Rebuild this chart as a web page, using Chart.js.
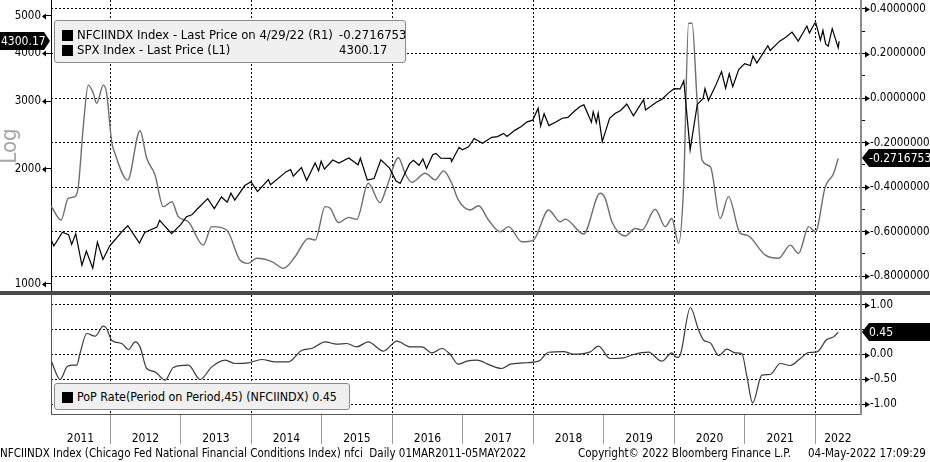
<!DOCTYPE html>
<html>
<head>
<meta charset="utf-8">
<script src="https://cdn.jsdelivr.net/npm/chart.js@4.4.0/dist/chart.umd.min.js"></script>
<style>
body { margin: 0; background: #fff; }
#wrap { position: relative; width: 930px; height: 462px; overflow: hidden; background: #fff;
  font-family: 'DejaVu Sans Condensed', 'DejaVu Sans', sans-serif; color: #000; }
canvas { position: absolute; left: 0; }
#top { top: 0; }
#bottom { top: 291px; }
#sep { position: absolute; left: 0; top: 291px; width: 930px; height: 4px; background: #4a4a4a; }
.legend { position: absolute; background: #f0f0f0; border: 1px solid #8a8a8a; border-radius: 3px;
  font-size: 13px; line-height: 15px; box-sizing: border-box; }
.legend span { position: absolute; white-space: pre; }
.sq { width: 11px; height: 11px; background: #000; }
#footer span { position: absolute; top: 446px; font-size: 11.5px; line-height: 14px; white-space: pre; }
</style>
</head>
<body>
<div id="wrap">
  <canvas id="top" width="930" height="291"></canvas>
  <canvas id="bottom" width="930" height="171"></canvas>
  <div id="sep"></div>
  <div class="legend" style="left:54px;top:20px;width:352px;height:43px;">
    <span class="sq" style="left:7px;top:9px;"></span>
    <span style="left:22px;top:6px;">NFCIINDX Index - Last Price on 4/29/22 (R1)</span>
    <span style="left:284px;top:6px;">-0.2716753</span>
    <span class="sq" style="left:7px;top:24px;"></span>
    <span style="left:22px;top:21px;">SPX Index - Last Price (L1)</span>
    <span style="left:284px;top:21px;">4300.17</span>
  </div>
  <div class="legend" style="left:54px;top:383px;width:296px;height:27px;">
    <span class="sq" style="left:7px;top:8px;"></span>
    <span style="left:22px;top:5px;font-size:12.4px;">PoP Rate(Period on Period,45) (NFCIINDX) 0.45</span>
  </div>
  <div id="footer">
    <span style="left:0px;">NFCIINDX Index (Chicago Fed National Financial Conditions Index) nfci  Daily 01MAR2011-05MAY2022</span>
    <span style="left:578px;">Copyright© 2022 Bloomberg Finance L.P.</span>
    <span style="left:808px;">04-May-2022 17:09:29</span>
  </div>
</div>
<script>
// S&P 500 (left, log scale)
var spxDates = ['2011-03-01','2011-03-16','2011-04-29','2011-05-31','2011-06-16','2011-07-07','2011-08-08','2011-08-31','2011-10-03','2011-10-27','2011-11-25','2011-12-30',
  '2012-01-31','2012-02-29','2012-04-02','2012-06-01','2012-06-29','2012-08-31','2012-09-14','2012-11-15','2012-12-31',
  '2013-01-31','2013-02-28','2013-03-28','2013-05-21','2013-06-24','2013-07-31','2013-08-30','2013-09-18','2013-10-08','2013-11-29','2013-12-31',
  '2014-02-03','2014-03-31','2014-04-11','2014-06-30','2014-07-24','2014-08-07','2014-09-18','2014-10-15','2014-11-28','2014-12-16','2014-12-29',
  '2015-01-15','2015-02-27','2015-03-31','2015-05-21','2015-07-08','2015-07-20','2015-08-25','2015-09-29','2015-11-03','2015-12-18',
  '2016-01-20','2016-02-11','2016-03-31','2016-04-20','2016-05-19','2016-06-08','2016-06-27','2016-07-29','2016-08-15','2016-09-09','2016-10-31','2016-11-04','2016-12-13','2016-12-30',
  '2017-01-31','2017-03-01','2017-04-13','2017-05-31','2017-06-30','2017-07-31','2017-08-18','2017-09-29','2017-10-31','2017-11-30','2017-12-29',
  '2018-01-26','2018-02-08','2018-02-26','2018-03-23','2018-04-30','2018-05-31','2018-06-29','2018-07-31','2018-08-31','2018-09-20','2018-10-29','2018-11-07','2018-11-23','2018-12-03','2018-12-24',
  '2019-01-31','2019-02-28','2019-03-29','2019-04-30','2019-06-03','2019-07-26','2019-08-05','2019-09-30','2019-10-31','2019-11-29','2019-12-31',
  '2020-01-31','2020-02-19','2020-03-23','2020-04-29','2020-05-29','2020-06-08','2020-06-26','2020-07-31','2020-09-02','2020-09-23','2020-10-12','2020-10-30','2020-11-30','2020-12-31',
  '2021-01-29','2021-02-12','2021-03-04','2021-04-30','2021-05-12','2021-06-30','2021-07-30','2021-09-02','2021-10-04','2021-11-18','2021-12-01','2021-12-29',
  '2022-01-03','2022-01-27','2022-02-09','2022-02-23','2022-03-08','2022-03-29','2022-04-29','2022-05-04'];
var spxValues = [1306,1256,1364,1345,1268,1353,1119,1219,1099,1285,1159,1258,
  1312,1366,1419,1278,1362,1407,1466,1353,1426,
  1498,1515,1569,1669,1573,1686,1633,1725,1655,1806,1848,
  1742,1872,1815,1960,1988,1910,2011,1862,2068,1972,2090,
  1992,2105,2068,2131,2046,2128,1867,1884,2109,2005,
  1859,1829,2060,2102,2040,2119,2001,2174,2190,2128,2126,2085,2272,2239,
  2279,2396,2329,2412,2423,2470,2425,2519,2575,2648,2674,
  2873,2581,2780,2588,2648,2705,2718,2816,2902,2931,2641,2814,2633,2790,2351,
  2704,2784,2834,2946,2744,3026,2844,2977,3038,3141,3231,
  3226,3386,2237,2939,3044,3232,3009,3271,3580,3237,3535,3270,3622,3756,
  3714,3934,3768,4181,4063,4298,4395,4537,4300,4705,4513,4793,
  4796,4326,4587,4226,4170,4632,4132,4300.17];

// NFCI (right scale)
var nfciDates = ['2011-03-01','2011-04-22','2011-05-29','2011-07-03','2011-07-20','2011-08-15','2011-09-10','2011-10-06','2011-10-23','2011-11-27','2011-12-14',
  '2012-01-09','2012-01-26','2012-04-01','2012-06-04','2012-07-09','2012-08-21','2012-10-03','2012-11-16','2012-12-20',
  '2013-02-10','2013-04-28','2013-06-11','2013-08-27','2013-11-04','2013-12-17',
  '2014-01-30','2014-04-18','2014-06-17','2014-08-16','2014-10-24','2014-11-28',
  '2015-01-19','2015-02-14','2015-03-29','2015-05-19','2015-07-01','2015-08-30','2015-10-30','2015-12-04',
  '2016-02-02','2016-03-08','2016-04-12','2016-06-20','2016-08-11','2016-09-23','2016-11-05','2016-12-09',
  '2017-02-08','2017-03-24','2017-05-14','2017-07-14','2017-08-26','2017-11-03',
  '2018-01-02','2018-03-21','2018-05-20','2018-06-16','2018-09-18','2018-12-13',
  '2019-01-08','2019-02-12','2019-04-21','2019-06-13','2019-07-17','2019-09-24','2019-11-15','2019-12-19',
  '2020-01-23','2020-02-18','2020-03-15','2020-04-02','2020-04-28','2020-05-24','2020-07-06','2020-08-26','2020-10-08','2020-12-08',
  '2021-01-12','2021-04-17','2021-06-25','2021-08-24','2021-10-06','2021-11-27',
  '2022-01-01','2022-02-21','2022-04-05','2022-04-29'];
var nfciValues = [-0.485,-0.548,-0.451,-0.443,-0.40,-0.129,0.058,0.021,-0.024,0.058,0.021,
  -0.196,-0.249,-0.369,-0.147,-0.271,-0.346,-0.488,-0.466,-0.533,
  -0.556,-0.661,-0.578,-0.593,-0.728,-0.743,
  -0.72,-0.735,-0.765,-0.713,-0.631,-0.638,
  -0.488,-0.495,-0.56,-0.536,-0.545,-0.383,-0.47,-0.399,
  -0.268,-0.339,-0.379,-0.338,-0.368,-0.328,-0.383,-0.458,
  -0.503,-0.484,-0.548,-0.601,-0.578,-0.646,
  -0.638,-0.503,-0.556,-0.544,-0.611,-0.428,
  -0.451,-0.556,-0.62,-0.586,-0.593,-0.50,-0.578,-0.541,
  -0.653,-0.399,0.336,0.336,-0.009,-0.279,-0.309,-0.541,-0.443,-0.608,
  -0.616,-0.706,-0.72,-0.661,-0.698,-0.578,
  -0.601,-0.399,-0.339,-0.2716753];

// PoP rate (period on period, 45) of NFCI, lower panel
var popDates = ['2011-03-04','2011-04-17','2011-05-22','2011-06-17','2011-07-12','2011-07-29','2011-09-02','2011-10-15','2011-11-27','2011-12-14',
  '2012-01-09','2012-03-01','2012-04-05','2012-05-10','2012-06-04','2012-07-09','2012-08-21','2012-10-12','2012-11-24',
  '2013-02-10','2013-04-12','2013-06-11','2013-08-19','2013-10-10','2013-12-17',
  '2014-02-25','2014-05-05','2014-07-13','2014-09-20','2014-11-10',
  '2015-01-19','2015-03-20','2015-05-11','2015-07-01','2015-08-30','2015-11-16',
  '2016-01-25','2016-04-03','2016-06-03','2016-07-25','2016-09-15','2016-10-27','2016-12-09',
  '2017-01-22','2017-03-15','2017-05-23','2017-07-22','2017-09-04','2017-11-11',
  '2018-01-28','2018-03-21','2018-06-07','2018-07-28','2018-10-23','2018-12-04',
  '2019-02-03','2019-04-13','2019-06-04','2019-08-20','2019-10-28','2019-12-19',
  '2020-01-14','2020-01-31','2020-03-24','2020-05-06','2020-06-01','2020-07-06','2020-08-18','2020-09-30','2020-11-12','2020-12-16',
  '2021-01-12','2021-02-10','2021-03-30','2021-05-12','2021-07-03','2021-08-24','2021-10-15','2021-11-27',
  '2022-01-09','2022-03-01','2022-04-05','2022-04-29'];
var popValues = [-0.149,-0.505,-0.25,-0.216,-0.216,0.02,0.424,0.37,0.572,0.525,
  0.289,0.222,0.101,0.255,0.154,-0.283,-0.35,-0.519,-0.263,
  -0.216,-0.505,-0.25,-0.115,-0.182,-0.17,
  -0.101,-0.149,-0.149,0.087,0.121,
  0.255,0.208,0.222,0.154,0.255,0.067,
  0.269,0.154,0.154,0.032,0.121,0.006,-0.196,
  -0.135,-0.115,-0.216,-0.283,-0.196,-0.17,
  -0.135,0.046,0.06,0.006,0.053,0.168,
  -0.081,-0.068,0.0,0.046,-0.135,0.032,
  -0.061,-0.014,0.949,0.491,0.289,0.235,-0.02,0.107,0.032,0.02,
  -0.452,-0.978,-0.418,-0.404,-0.182,-0.222,-0.081,0.04,
  0.053,0.303,0.356,0.45];

// axes
var yearTicks = [2012,2013,2014,2015,2016,2017,2018,2019,2020,2021,2022];
var yearLabelAt = [2011.58,2012.5,2013.5,2014.5,2015.5,2016.5,2017.5,2018.5,2019.5,2020.5,2021.5,2022.32];
var spxTicks = [1000,2000,3000,4000,5000];
var nfciMajor = [-0.8,-0.6,-0.4,-0.2,0,0.2,0.4];
var nfciMinor = [-0.7,-0.5,-0.3,-0.1,0.1,0.3];
var popMajor = [-1,-0.5,0,0.5,1];
var popMinor = [-0.75,-0.25,0.25,0.75];

var FONT = "'DejaVu Sans Condensed', 'DejaVu Sans', sans-serif";

function toYear(s) {
  var p = s.split('-').map(Number);
  var a = Date.UTC(p[0], 0, 1), b = Date.UTC(p[0] + 1, 0, 1);
  return p[0] + (Date.UTC(p[0], p[1] - 1, p[2]) - a) / (b - a);
}
function pts(dates, vals) {
  return dates.map(function (d, i) { return { x: toYear(d), y: vals[i] }; });
}
var xMin = toYear('2011-03-01');
var xMax = toYear('2022-08-25');
var clear = 'rgba(0,0,0,0)';

// black value tags + little arrow marks on the axes
var marksPlugin = {
  id: 'marks',
  afterDraw: function (chart, args, opts) {
    var ctx = chart.ctx, area = chart.chartArea;
    ctx.save();
    ctx.fillStyle = '#000';
    (opts.arrows || []).forEach(function (a) {
      var sc = chart.scales[a.axis];
      a.values.forEach(function (v) {
        var y = Math.round(sc.getPixelForValue(v)) + 0.5;
        ctx.beginPath();
        if (a.side === 'left') {
          ctx.moveTo(area.left - 9, y); ctx.lineTo(area.left - 5, y - 3); ctx.lineTo(area.left - 5, y + 3);
        } else {
          ctx.moveTo(area.right + 9, y); ctx.lineTo(area.right + 4, y - 3); ctx.lineTo(area.right + 4, y + 3);
        }
        ctx.fill();
      });
    });
    (opts.tags || []).forEach(function (t) {
      var y = Math.round(chart.scales[t.axis].getPixelForValue(t.value));
      ctx.fillStyle = '#000';
      ctx.beginPath();
      if (t.side === 'left') {
        var tip = area.left - 1;
        ctx.moveTo(0, y - 9); ctx.lineTo(tip - 6, y - 9); ctx.lineTo(tip, y);
        ctx.lineTo(tip - 6, y + 9); ctx.lineTo(0, y + 9);
      } else {
        var tp = area.right + 1;
        ctx.moveTo(chart.width, y - 9); ctx.lineTo(tp + 7, y - 9); ctx.lineTo(tp, y);
        ctx.lineTo(tp + 7, y + 9); ctx.lineTo(chart.width, y + 9);
      }
      ctx.closePath();
      ctx.fill();
      ctx.fillStyle = '#fff';
      ctx.font = '12px ' + FONT;
      ctx.textBaseline = 'middle';
      ctx.textAlign = 'left';
      ctx.fillText(t.text, t.side === 'left' ? 1 : area.right + 8, y + 1);
    });
    if (opts.logLabel) {
      ctx.translate(10, 146);
      ctx.rotate(-Math.PI / 2);
      ctx.fillStyle = '#a6a6a6';
      ctx.font = '22px ' + FONT;
      ctx.textAlign = 'center';
      ctx.textBaseline = 'middle';
      ctx.fillText('Log', 0, 0);
    }
    ctx.restore();
  }
};

function fixWidth(w) {
  return function (s) { s.width = w; s.paddingTop = 0; s.paddingBottom = 0; };
}

new Chart(document.getElementById('top'), {
  type: 'line',
  data: {
    datasets: [
      { label: 'SPX', data: pts(spxDates, spxValues), yAxisID: 'yL', borderColor: '#000',
        borderWidth: 1.2, pointRadius: 0, tension: 0 },
      { label: 'NFCI', data: pts(nfciDates, nfciValues), yAxisID: 'yR', borderColor: '#6e6e6e',
        borderWidth: 1.4, pointRadius: 0, cubicInterpolationMode: 'monotone' }
    ]
  },
  options: {
    responsive: false, animation: false,
    layout: { padding: 0 },
    plugins: {
      legend: { display: false }, tooltip: { enabled: false },
      marks: {
        logLabel: true,
        arrows: [{ axis: 'yL', side: 'left', values: spxTicks }, { axis: 'yR', side: 'right', values: nfciMajor }],
        tags: [
          { axis: 'yL', side: 'left', value: spxValues[spxValues.length - 1], text: '4300.17' },
          { axis: 'yR', side: 'right', value: nfciValues[nfciValues.length - 1], text: '-0.2716753' }
        ]
      }
    },
    scales: {
      x: {
        type: 'linear', min: xMin, max: xMax,
        afterBuildTicks: function (s) { s.ticks = yearTicks.map(function (v) { return { value: v }; }); },
        afterFit: function (s) { s.height = 0; s.paddingLeft = 0; s.paddingRight = 0; },
        ticks: { display: false },
        grid: { drawTicks: false, lineWidth: 1,
          color: function (c) { return c.tick && c.tick.value % 2 === 0 ? '#000' : clear; } },
        border: { display: false, dash: [2, 2] }
      },
      yL: {
        type: 'logarithmic', position: 'left', min: 958.8, max: 5502,
        afterBuildTicks: function (s) { s.ticks = spxTicks.map(function (v) { return { value: v }; }); },
        afterFit: fixWidth(51),
        ticks: { callback: function (v) { return String(v); }, color: '#000', padding: 2,
          font: { family: FONT, size: 11.5 } },
        grid: { drawOnChartArea: false, drawTicks: true, tickLength: 8, tickColor: '#000' },
        border: { display: true, color: '#000', width: 1 }
      },
      yR: {
        type: 'linear', position: 'right', min: -0.867, max: 0.4404,
        afterBuildTicks: function (s) {
          s.ticks = nfciMajor.concat(nfciMinor).sort(function (a, b) { return a - b; })
            .map(function (v) { return { value: v }; });
        },
        afterFit: fixWidth(69),
        ticks: { callback: function (v) { return nfciMajor.indexOf(v) >= 0 ? v.toFixed(7) : ''; },
          color: '#000', padding: 5, font: { family: FONT, size: 11.5 } },
        grid: { drawTicks: true, tickLength: 4, tickColor: '#000', lineWidth: 1,
          color: function (c) { return c.tick && nfciMajor.indexOf(c.tick.value) >= 0 ? '#000' : clear; } },
        border: { display: true, color: '#8c8c8c', width: 2, dash: [2, 2] }
      }
    }
  },
  plugins: [marksPlugin]
});

new Chart(document.getElementById('bottom'), {
  type: 'line',
  data: {
    datasets: [
      { label: 'PoP', data: pts(popDates, popValues), yAxisID: 'y', borderColor: '#3a3a3a',
        borderWidth: 1.2, pointRadius: 0, cubicInterpolationMode: 'monotone' }
    ]
  },
  options: {
    responsive: false, animation: false,
    layout: { padding: { top: 4, left: 0, right: 0, bottom: 0 } },
    plugins: {
      legend: { display: false }, tooltip: { enabled: false },
      marks: {
        arrows: [{ axis: 'y', side: 'right', values: popMajor }],
        tags: [{ axis: 'y', side: 'right', value: popValues[popValues.length - 1], text: '0.45' }]
      }
    },
    scales: {
      x: {
        type: 'linear', min: xMin, max: xMax,
        afterBuildTicks: function (s) {
          s.ticks = yearTicks.concat(yearLabelAt).sort(function (a, b) { return a - b; })
            .map(function (v) { return { value: v }; });
        },
        afterFit: function (s) { s.height = 48; s.paddingLeft = 0; s.paddingRight = 0; },
        ticks: {
          autoSkip: false, maxRotation: 0, padding: -12, color: '#000',
          font: { family: FONT, size: 12 },
          callback: function (v) { return Number.isInteger(v) ? '' : String(Math.floor(v)); }
        },
        grid: {
          drawTicks: true, tickLength: 30, tickBorderDash: [], lineWidth: 1,
          color: function (c) { var v = c.tick && c.tick.value; return Number.isInteger(v) && v % 2 === 0 ? '#000' : clear; },
          tickColor: function (c) { var v = c.tick && c.tick.value; return Number.isInteger(v) ? '#9a9a9a' : clear; }
        },
        border: { display: true, color: '#555', width: 1, dash: [2, 2] }
      },
      yL: {
        type: 'linear', position: 'left', min: 0, max: 1,
        afterFit: fixWidth(51),
        ticks: { display: false },
        grid: { display: false },
        border: { display: true, color: '#555', width: 1 }
      },
      y: {
        type: 'linear', position: 'right', min: -1.202, max: 1.202,
        afterBuildTicks: function (s) {
          s.ticks = popMajor.concat(popMinor).sort(function (a, b) { return a - b; })
            .map(function (v) { return { value: v }; });
        },
        afterFit: fixWidth(69),
        ticks: { callback: function (v) { return popMajor.indexOf(v) >= 0 ? v.toFixed(2) : ''; },
          color: '#000', padding: 5, font: { family: FONT, size: 11.5 } },
        grid: { drawTicks: true, tickLength: 4, tickColor: '#000', lineWidth: 1,
          color: function (c) { return c.tick && popMajor.indexOf(c.tick.value) >= 0 ? '#000' : clear; } },
        border: { display: true, color: '#8c8c8c', width: 2, dash: [2, 2] }
      }
    }
  },
  plugins: [marksPlugin]
});
</script>
</body>
</html>
